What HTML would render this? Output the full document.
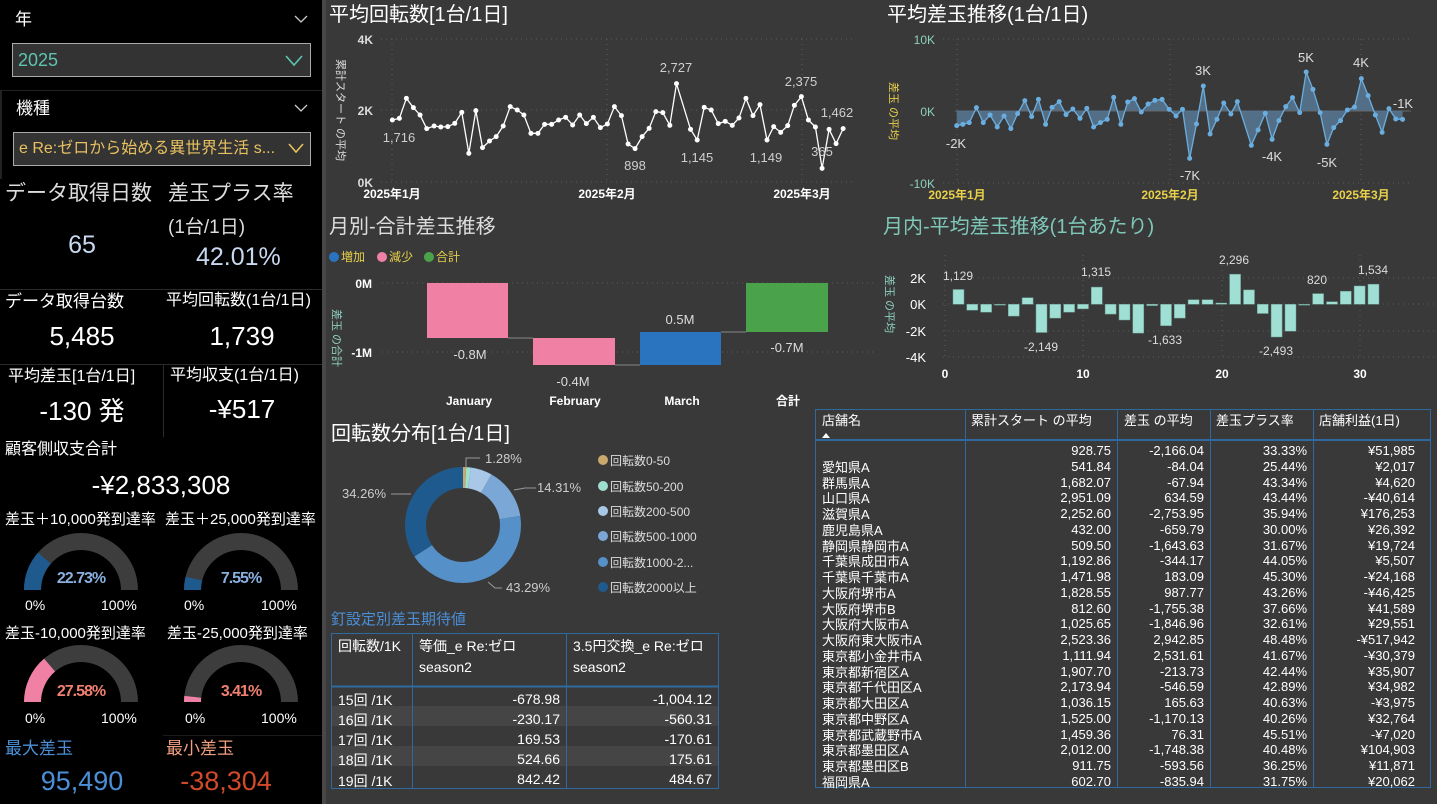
<!DOCTYPE html>
<html><head><meta charset="utf-8">
<style>
*{margin:0;padding:0;box-sizing:border-box}
body{width:1437px;height:804px;background:#393939;position:relative;overflow:hidden;font-family:"Liberation Sans","Noto Sans CJK JP",sans-serif;color:#fff}
.a{position:absolute;white-space:nowrap;line-height:1}
.c{transform:translateX(-50%)}
#left{position:absolute;left:0;top:0;width:322px;height:804px;background:#000}
#sep{position:absolute;left:322px;top:0;width:4px;height:804px;background:#484848}
.box{position:absolute;border:1px solid #aaa;background:#333}
</style></head><body>
<div id="left"></div><div id="sep"></div>
<!-- left panel -->
<div class="a" style="left:15px;top:11px;font-size:17px">年</div>
<div class="box" style="left:12px;top:43px;width:299px;height:34px"></div>
<div class="a" style="left:18px;top:51px;font-size:18px;color:#5ec4b0">2025</div>
<div style="position:absolute;left:0;top:90px;width:322px;height:1px;background:#222"></div>
<div style="position:absolute;left:0;top:91px;width:2px;height:88px;background:#222"></div>
<div class="a" style="left:16px;top:100px;font-size:17px">機種</div>
<div class="box" style="left:13px;top:132px;width:298px;height:34px"></div>
<div class="a" style="left:19px;top:141px;font-size:16px;color:#e8c060">e Re:ゼロから始める異世界生活 s...</div>
<svg style="position:absolute;left:0;top:0" width="322" height="180" fill="none">
<polyline points="295,16 301,22 307,16" stroke="#ccc" stroke-width="1.3"/>
<polyline points="295,105 301,111 307,105" stroke="#ccc" stroke-width="1.3"/>
<polyline points="286,56 294,65 302,56" stroke="#5ec4b0" stroke-width="1.6"/>
<polyline points="289,144 296,152 303,144" stroke="#e8c060" stroke-width="1.6"/>
</svg>
<div class="a" style="left:5px;top:183px;font-size:21px;color:#ddd">データ取得日数</div>
<div class="a" style="left:168px;top:183px;font-size:21px;color:#ddd">差玉プラス率</div>
<div class="a" style="left:168px;top:218px;font-size:19px;color:#ddd">(1台/1日)</div>
<div class="a c" style="left:82px;top:233px;font-size:25px;color:#c8d8f0">65</div>
<div class="a" style="left:196px;top:245px;font-size:25px;color:#c8d8f0">42.01%</div>
<div style="position:absolute;left:0;top:289px;width:322px;height:1px;background:#2a2a2a"></div>
<div class="a" style="left:5px;top:293px;font-size:17px">データ取得台数</div>
<div class="a" style="left:166px;top:293px;font-size:16px">平均回転数(1台/1日)</div>
<div class="a c" style="left:82px;top:323px;font-size:26px">5,485</div>
<div class="a c" style="left:242px;top:323px;font-size:26px">1,739</div>
<div style="position:absolute;left:0;top:364px;width:322px;height:1px;background:#2a2a2a"></div>
<div style="position:absolute;left:163px;top:365px;width:1px;height:72px;background:#2a2a2a"></div>
<div class="a" style="left:8px;top:369px;font-size:16px">平均差玉[1台/1日]</div>
<div class="a" style="left:170px;top:368px;font-size:16px">平均収支(1台/1日)</div>
<div class="a c" style="left:82px;top:398px;font-size:26px">-130 発</div>
<div class="a c" style="left:242px;top:396px;font-size:26px">-¥517</div>
<div class="a" style="left:5px;top:442px;font-size:16px">顧客側収支合計</div>
<div class="a c" style="left:161px;top:472px;font-size:26px">-¥2,833,308</div>
<div class="a" style="left:5px;top:512px;font-size:15px">差玉＋10,000発到達率</div>
<div class="a" style="left:165px;top:512px;font-size:15px">差玉＋25,000発到達率</div>
<div class="a" style="left:5px;top:626px;font-size:15px">差玉-10,000発到達率</div>
<div class="a" style="left:167px;top:626px;font-size:15px">差玉-25,000発到達率</div>
<svg style="position:absolute;left:0;top:0" width="322" height="804">
<g fill="#3d3d3d">
<path d="M24 590A57 57 0 0 1 138 590L121 590A40 40 0 0 0 41 590Z"/>
<path d="M184 590A57 57 0 0 1 298 590L281 590A40 40 0 0 0 201 590Z"/>
<path d="M24 702A57 57 0 0 1 138 702L121 702A40 40 0 0 0 41 702Z"/>
<path d="M184 702A57 57 0 0 1 298 702L281 702A40 40 0 0 0 201 702Z"/>
</g>
<path fill="#1f5a8f" d="M24 590A57 57 0 0 1 38 552.6L50.8 563.8A40 40 0 0 0 41 590Z"/>
<path fill="#1f5a8f" d="M184 590A57 57 0 0 1 185.6 576.6L202.1 580.6A40 40 0 0 0 201 590Z"/>
<path fill="#f080a4" d="M24 702A57 57 0 0 1 44.1 658.6L55.1 671.5A40 40 0 0 0 41 702Z"/>
<path fill="#f080a4" d="M184 702A57 57 0 0 1 184.3 695.9L201.2 697.7A40 40 0 0 0 201 702Z"/>
</svg>
<div class="a c" style="left:81px;top:571px;font-size:16px;color:#8ab0e0;font-weight:bold;letter-spacing:-1px">22.73%</div>
<div class="a c" style="left:241px;top:571px;font-size:16px;color:#8ab0e0;font-weight:bold;letter-spacing:-1px">7.55%</div>
<div class="a c" style="left:81px;top:684px;font-size:16px;color:#f08070;font-weight:bold;letter-spacing:-1px">27.58%</div>
<div class="a c" style="left:241px;top:684px;font-size:16px;color:#f08070;font-weight:bold;letter-spacing:-1px">3.41%</div>
<div class="a" style="left:25px;top:598px;font-size:14px">0%</div>
<div class="a" style="left:101px;top:598px;font-size:14px">100%</div>
<div class="a" style="left:184px;top:598px;font-size:14px">0%</div>
<div class="a" style="left:261px;top:598px;font-size:14px">100%</div>
<div class="a" style="left:25px;top:711px;font-size:14px">0%</div>
<div class="a" style="left:101px;top:711px;font-size:14px">100%</div>
<div class="a" style="left:185px;top:711px;font-size:14px">0%</div>
<div class="a" style="left:261px;top:711px;font-size:14px">100%</div>
<div style="position:absolute;left:163px;top:735px;width:159px;height:1px;background:#1a1a1a"></div>
<div class="a" style="left:5px;top:740px;font-size:17px;color:#4a8fd8">最大差玉</div>
<div class="a" style="left:166px;top:740px;font-size:17px;color:#f0a080">最小差玉</div>
<div class="a c" style="left:82px;top:768px;font-size:27px;color:#4a8fd8">95,490</div>
<div class="a c" style="left:226px;top:768px;font-size:27px;color:#d04a2a">-38,304</div>

<!-- titles -->
<div class="a" style="left:329px;top:5px;font-size:20px">平均回転数[1台/1日]</div>
<div class="a" style="left:887px;top:5px;font-size:20px">平均差玉推移(1台/1日)</div>
<div class="a" style="left:329px;top:217px;font-size:20px;color:#ddd">月別-合計差玉推移</div>
<div class="a" style="left:883px;top:217px;font-size:20px;color:#7ec8b8">月内-平均差玉推移(1台あたり)</div>
<div class="a" style="left:331px;top:424px;font-size:20px">回転数分布[1台/1日]</div>
<div class="a" style="left:331px;top:612px;font-size:15px;color:#4a8fd8">釘設定別差玉期待値</div>

<svg style="position:absolute;left:0;top:0" width="1437" height="804" font-family="Liberation Sans, Noto Sans CJK JP, sans-serif">
<!-- chart1 -->
<g stroke="#5a5a5a" stroke-dasharray="1 4" stroke-width="1">
<line x1="381" y1="39" x2="853" y2="39"/><line x1="381" y1="110" x2="853" y2="110"/><line x1="381" y1="182" x2="853" y2="182"/>
<line x1="392" y1="39" x2="392" y2="182"/><line x1="607" y1="39" x2="607" y2="182"/><line x1="802" y1="39" x2="802" y2="182"/>
</g>
<g font-size="12" fill="#ddd" text-anchor="end" font-weight="bold"><text x="373" y="44">4K</text><text x="373" y="115">2K</text><text x="373" y="187">0K</text></g>
<g font-size="12" fill="#fff" text-anchor="middle" font-weight="bold"><text x="392" y="198">2025年1月</text><text x="607" y="198">2025年2月</text><text x="802" y="198">2025年3月</text></g>
<text transform="translate(337,110) rotate(90)" font-size="11" fill="#ddd" text-anchor="middle">累計スタート の平均</text>
<g transform="translate(325,0) scale(0.3508,0.3333)" fill="none" stroke="#fff" stroke-width="1.3">
<polyline vector-effect="non-scaling-stroke" points="192,360 212,355 232,295 252,323 271,345 290,386 311,378 330,381 350,380 370,370 390,337 410,460 430,332 449,443 469,423 488,410 508,378 528,320 548,330 567,345 587,400 607,400 626,373 646,373 666,360 686,352 706,375 726,345 745,371 765,352 785,383 805,372 825,320 845,347 864,432 884,446 904,410 924,385 943,335 963,338 983,376 1002,251 1042,388 1061,420 1081,322 1101,330 1121,371 1141,364 1161,376 1180,354 1200,295 1220,347 1240,314 1260,420 1279,380 1299,397 1319,377 1338,316 1358,290 1378,360 1398,381 1417,505 1437,388 1457,431 1477,386"/>
<path vector-effect="non-scaling-stroke" stroke-width="5" stroke-linecap="round" d="M192 360h0M212 355h0M232 295h0M252 323h0M271 345h0M290 386h0M311 378h0M330 381h0M350 380h0M370 370h0M390 337h0M410 460h0M430 332h0M449 443h0M469 423h0M488 410h0M508 378h0M528 320h0M548 330h0M567 345h0M587 400h0M607 400h0M626 373h0M646 373h0M666 360h0M686 352h0M706 375h0M726 345h0M745 371h0M765 352h0M785 383h0M805 372h0M825 320h0M845 347h0M864 432h0M884 446h0M904 410h0M924 385h0M943 335h0M963 338h0M983 376h0M1002 251h0M1042 388h0M1061 420h0M1081 322h0M1101 330h0M1121 371h0M1141 364h0M1161 376h0M1180 354h0M1200 295h0M1220 347h0M1240 314h0M1260 420h0M1279 380h0M1299 397h0M1319 377h0M1338 316h0M1358 290h0M1378 360h0M1398 381h0M1417 505h0M1437 388h0M1457 431h0M1477 386h0"/>
</g>
<g font-size="13" fill="#cfcfcf" text-anchor="middle"><text x="399" y="142">1,716</text><text x="676" y="72">2,727</text><text x="635" y="170">898</text><text x="697" y="162">1,145</text><text x="766" y="162">1,149</text><text x="801" y="86">2,375</text><text x="822" y="156">365</text><text x="837" y="117">1,462</text></g>

<!-- chart2 -->
<g stroke="#5a5a5a" stroke-dasharray="1 4" stroke-width="1">
<line x1="943" y1="39" x2="1411" y2="39"/><line x1="943" y1="183" x2="1411" y2="183"/>
<line x1="957" y1="39" x2="957" y2="183"/><line x1="1170" y1="39" x2="1170" y2="183"/><line x1="1361" y1="39" x2="1361" y2="183"/>
</g>
<line x1="955" y1="111" x2="1411" y2="111" stroke="#666" stroke-width="1"/>
<g font-size="12" fill="#8fd0c0" text-anchor="end"><text x="935" y="44">10K</text><text x="935" y="116">0K</text><text x="935" y="188">-10K</text></g>
<g font-size="12" fill="#e8d04a" text-anchor="middle" font-weight="bold"><text x="957" y="199">2025年1月</text><text x="1170" y="199">2025年2月</text><text x="1361" y="199">2025年3月</text></g>
<text transform="translate(890,111) rotate(90)" font-size="11" fill="#e8d04a" text-anchor="middle">差玉 の平均</text>
<g transform="translate(875,0) scale(0.3584,0.3333)">
<polygon fill="#567590" opacity="0.9" points="228,332 228,377 245,373 263,368 283,323 302,368 321,345 341,381 360,348 379,386 398,341 418,302 437,350 456,298 476,373 494,322 514,305 533,344 552,327 572,355 591,325 610,381 629,368 648,358 666,292 686,373 705,306 724,296 743,336 762,312 781,301 801,298 821,328 840,348 858,328 878,475 897,372 916,258 935,402 954,358 973,309 993,342 1011,305 1050,436 1069,390 1089,340 1108,418 1127,362 1146,320 1165,293 1185,338 1203,216 1222,268 1242,338 1261,433 1280,383 1299,362 1318,330 1338,321 1357,236 1376,287 1396,345 1415,397 1434,326 1453,357 1472,358 1472,332"/>
<polyline fill="none" stroke="#6aaee0" stroke-width="1.3" vector-effect="non-scaling-stroke" points="228,377 245,373 263,368 283,323 302,368 321,345 341,381 360,348 379,386 398,341 418,302 437,350 456,298 476,373 494,322 514,305 533,344 552,327 572,355 591,325 610,381 629,368 648,358 666,292 686,373 705,306 724,296 743,336 762,312 781,301 801,298 821,328 840,348 858,328 878,475 897,372 916,258 935,402 954,358 973,309 993,342 1011,305 1050,436 1069,390 1089,340 1108,418 1127,362 1146,320 1165,293 1185,338 1203,216 1222,268 1242,338 1261,433 1280,383 1299,362 1318,330 1338,321 1357,236 1376,287 1396,345 1415,397 1434,326 1453,357 1472,358"/>
<path fill="none" stroke="#6aaee0" vector-effect="non-scaling-stroke" stroke-width="5" stroke-linecap="round" d="M228 377h0M245 373h0M263 368h0M283 323h0M302 368h0M321 345h0M341 381h0M360 348h0M379 386h0M398 341h0M418 302h0M437 350h0M456 298h0M476 373h0M494 322h0M514 305h0M533 344h0M552 327h0M572 355h0M591 325h0M610 381h0M629 368h0M648 358h0M666 292h0M686 373h0M705 306h0M724 296h0M743 336h0M762 312h0M781 301h0M801 298h0M821 328h0M840 348h0M858 328h0M878 475h0M897 372h0M916 258h0M935 402h0M954 358h0M973 309h0M993 342h0M1011 305h0M1050 436h0M1069 390h0M1089 340h0M1108 418h0M1127 362h0M1146 320h0M1165 293h0M1185 338h0M1203 216h0M1222 268h0M1242 338h0M1261 433h0M1280 383h0M1299 362h0M1318 330h0M1338 321h0M1357 236h0M1376 287h0M1396 345h0M1415 397h0M1434 326h0M1453 357h0M1472 358h0"/>
</g>
<g font-size="13" fill="#ddd" text-anchor="middle"><text x="956" y="148">-2K</text><text x="1203" y="75">3K</text><text x="1190" y="180">-7K</text><text x="1306" y="62">5K</text><text x="1272" y="161">-4K</text><text x="1327" y="167">-5K</text><text x="1361" y="67">4K</text><text x="1403" y="108">-1K</text></g>

<!-- waterfall -->
<circle cx="334" cy="257" r="5" fill="#2a74bf"/><circle cx="382" cy="257" r="5" fill="#f080a4"/><circle cx="429" cy="257" r="5" fill="#4aa24a"/>
<g font-size="12" fill="#e8d04a"><text x="341" y="261">増加</text><text x="389" y="261">減少</text><text x="436" y="261">合計</text></g>
<g stroke="#5a5a5a" stroke-dasharray="1 4"><line x1="382" y1="283" x2="875" y2="283"/><line x1="382" y1="352" x2="875" y2="352"/></g>
<g font-size="12" fill="#fff" text-anchor="end" font-weight="bold"><text x="372" y="288">0M</text><text x="372" y="357">-1M</text></g>
<text transform="translate(333,338) rotate(90)" font-size="11" fill="#8fd0c0" text-anchor="middle">差玉 の合計</text>
<rect x="427" y="283" width="81" height="55" fill="#f080a4"/>
<rect x="533" y="338" width="82" height="27" fill="#f080a4"/>
<rect x="640" y="332" width="81" height="33" fill="#2a74bf"/>
<rect x="746" y="283" width="82" height="49" fill="#4aa24a"/>
<g stroke="#888" stroke-width="1"><line x1="508" y1="338" x2="533" y2="338"/><line x1="615" y1="365" x2="640" y2="365"/><line x1="721" y1="332" x2="746" y2="332"/></g>
<g font-size="13" fill="#ddd" text-anchor="middle"><text x="470" y="359">-0.8M</text><text x="573" y="386">-0.4M</text><text x="680" y="324">0.5M</text><text x="787" y="352">-0.7M</text></g>
<g font-size="12" fill="#fff" text-anchor="middle" font-weight="bold"><text x="469" y="405">January</text><text x="575" y="405">February</text><text x="682" y="405">March</text><text x="788" y="405">合計</text></g>

<!-- bar chart -->
<g stroke="#5a5a5a" stroke-dasharray="1 4"><line x1="943" y1="278" x2="1437" y2="278"/><line x1="943" y1="304" x2="1437" y2="304"/><line x1="943" y1="331" x2="1437" y2="331"/><line x1="943" y1="357" x2="1437" y2="357"/>
<line x1="945" y1="255" x2="945" y2="357"/><line x1="1083" y1="255" x2="1083" y2="357"/><line x1="1222" y1="255" x2="1222" y2="357"/><line x1="1360" y1="255" x2="1360" y2="357"/></g>
<g font-size="13" fill="#fff" text-anchor="end"><text x="926" y="283">2K</text><text x="926" y="309">0K</text><text x="926" y="336">-2K</text><text x="926" y="362">-4K</text></g>
<g font-size="12" fill="#fff" text-anchor="middle" font-weight="bold"><text x="945" y="378">0</text><text x="1083" y="378">10</text><text x="1222" y="378">20</text><text x="1360" y="378">30</text></g>
<text transform="translate(886,304) rotate(90)" font-size="11" fill="#8fd0c0" text-anchor="middle">差玉 の平均</text>
<g fill="#a0e0d4" stroke="#6a9a90" stroke-width="0.5">
<rect x="953" y="289.5" width="11" height="14.8"/><rect x="966.8" y="304.3" width="11" height="5.9"/><rect x="980.6" y="304.3" width="11" height="7.9"/><rect x="994.5" y="304.3" width="11" height="0.8"/><rect x="1008.3" y="304.3" width="11" height="11.8"/><rect x="1022.1" y="297.7" width="11" height="6.6"/><rect x="1036" y="304.3" width="11" height="28.2"/><rect x="1049.8" y="304.3" width="11" height="13.8"/><rect x="1063.6" y="304.3" width="11" height="7.9"/><rect x="1077.5" y="304.3" width="11" height="4.6"/><rect x="1091.3" y="287.1" width="11" height="17.2"/><rect x="1105.1" y="304.3" width="11" height="9.8"/><rect x="1119" y="304.3" width="11" height="15.7"/><rect x="1132.8" y="304.3" width="11" height="28.8"/><rect x="1146.6" y="304.3" width="11" height="1.3"/><rect x="1160.5" y="304.3" width="11" height="21.4"/><rect x="1174.3" y="304.3" width="11" height="13.8"/><rect x="1188.1" y="299.7" width="11" height="4.6"/><rect x="1202" y="299.7" width="11" height="4.6"/><rect x="1215.8" y="303" width="11" height="1.3"/><rect x="1229.6" y="274.2" width="11" height="30.1"/><rect x="1243.5" y="289.9" width="11" height="14.4"/><rect x="1257.3" y="304.3" width="11" height="9.2"/><rect x="1271.1" y="304.3" width="11" height="32.7"/><rect x="1285" y="304.3" width="11" height="26.9"/><rect x="1298.8" y="304.3" width="11" height="0.8"/><rect x="1312.6" y="293.6" width="11" height="10.7"/><rect x="1326.5" y="301.7" width="11" height="2.6"/><rect x="1340.3" y="291.2" width="11" height="13.1"/><rect x="1354.1" y="286" width="11" height="18.3"/><rect x="1368" y="284.2" width="11" height="20.1"/>
</g>
<g font-size="12" fill="#ddd" text-anchor="middle"><text x="958" y="280">1,129</text><text x="1096" y="276">1,315</text><text x="1234" y="264">2,296</text><text x="1041" y="351">-2,149</text><text x="1165" y="344">-1,633</text><text x="1276" y="355">-2,493</text><text x="1317" y="284">820</text><text x="1373" y="274">1,534</text></g>

<!-- donut -->
<g transform="translate(463,525) rotate(-90)" fill="none" stroke-width="21">
<circle r="47.5" stroke="#c8a96e" stroke-dasharray="2.7 300" stroke-dashoffset="0"/>
<circle r="47.5" stroke="#9ee0cf" stroke-dasharray="3.8 300" stroke-dashoffset="-2.7"/>
<circle r="47.5" stroke="#a9c8e8" stroke-dasharray="17.8 300" stroke-dashoffset="-6.5"/>
<circle r="47.5" stroke="#7ba7d6" stroke-dasharray="42.7 300" stroke-dashoffset="-24.3"/>
<circle r="47.5" stroke="#5590c8" stroke-dasharray="129.2 300" stroke-dashoffset="-67"/>
<circle r="47.5" stroke="#1f5a8f" stroke-dasharray="102.3 300" stroke-dashoffset="-196.2"/>
</g>
<g stroke="#999" fill="none"><polyline points="466,467 466,458 480,458"/><polyline points="514,490 525,488 536,488"/><polyline points="411,494 391,494"/><polyline points="488,582 495,588 502,588"/></g>
<g font-size="13" fill="#ccc"><text x="485" y="463">1.28%</text><text x="537" y="492">14.31%</text><text x="342" y="498">34.26%</text><text x="506" y="592">43.29%</text></g>
<g><circle cx="603" cy="460" r="5" fill="#c8a96e"/><circle cx="603" cy="486" r="5" fill="#9ee0cf"/><circle cx="603" cy="511" r="5" fill="#a9c8e8"/><circle cx="603" cy="536" r="5" fill="#7ba7d6"/><circle cx="603" cy="562" r="5" fill="#5590c8"/><circle cx="603" cy="587" r="5" fill="#1f5a8f"/></g>
<g font-size="12" fill="#ddd"><text x="610" y="465">回転数0-50</text><text x="610" y="491">回転数50-200</text><text x="610" y="516">回転数200-500</text><text x="610" y="541">回転数500-1000</text><text x="610" y="567">回転数1000-2...</text><text x="610" y="592">回転数2000以上</text></g>

<!-- small table -->
<rect x="331.5" y="633.5" width="387" height="155" fill="none" stroke="#2e6aa0"/>
<rect x="332" y="706" width="386" height="20" fill="#454545"/><rect x="332" y="746" width="386" height="20" fill="#454545"/>
<g stroke="#2e6aa0"><line x1="412.5" y1="634" x2="412.5" y2="788"/><line x1="566.5" y1="634" x2="566.5" y2="788"/><line x1="332" y1="686.5" x2="718" y2="686.5" stroke-width="2"/></g>
<g font-size="14" fill="#fff"><text x="338" y="651">回転数/1K</text><text x="419" y="651">等価_e Re:ゼロ</text><text x="419" y="672">season2</text><text x="573" y="651">3.5円交換_e Re:ゼロ</text><text x="573" y="672">season2</text>
<text x="338" y="705">15回 /1K</text><text x="338" y="725">16回 /1K</text><text x="338" y="745">17回 /1K</text><text x="338" y="765">18回 /1K</text><text x="338" y="786">19回 /1K</text></g>
<g font-size="14" fill="#fff" text-anchor="end"><text x="560" y="704">-678.98</text><text x="560" y="724">-230.17</text><text x="560" y="744">169.53</text><text x="560" y="764">524.66</text><text x="560" y="784">842.42</text>
<text x="712" y="704">-1,004.12</text><text x="712" y="724">-560.31</text><text x="712" y="744">-170.61</text><text x="712" y="764">175.61</text><text x="712" y="784">484.67</text></g>

<!-- big table -->
<rect x="815.5" y="409.5" width="615" height="378" fill="none" stroke="#2e6aa0"/>
<g stroke="#2e6aa0"><line x1="965.5" y1="410" x2="965.5" y2="787"/><line x1="1117.5" y1="410" x2="1117.5" y2="787"/><line x1="1210.5" y1="410" x2="1210.5" y2="787"/><line x1="1313.5" y1="410" x2="1313.5" y2="787"/><line x1="816" y1="440" x2="1430" y2="440" stroke-width="2"/></g>
<g font-size="13" fill="#fff"><text x="822" y="425">店舗名</text><text x="971" y="425">累計スタート の平均</text><text x="1124" y="425">差玉 の平均</text><text x="1216" y="425">差玉プラス率</text><text x="1319" y="425">店舗利益(1日)</text></g>
<path d="M822 438 l4 -5 l4 5z" fill="#fff"/>
</svg>
<div style="position:absolute;left:0;top:443px">
<div style="position:absolute;font-size:13px;line-height:15.75px;white-space:nowrap">
<div style="position:absolute;left:822px;top:1px;width:140px">
&nbsp;<br>愛知県A<br>群馬県A<br>山口県A<br>滋賀県A<br>鹿児島県A<br>静岡県静岡市A<br>千葉県成田市A<br>千葉県千葉市A<br>大阪府堺市A<br>大阪府堺市B<br>大阪府大阪市A<br>大阪府東大阪市A<br>東京都小金井市A<br>東京都新宿区A<br>東京都千代田区A<br>東京都大田区A<br>東京都中野区A<br>東京都武蔵野市A<br>東京都墨田区A<br>東京都墨田区B<br>福岡県A</div>
<div style="position:absolute;left:965px;width:146px;text-align:right">928.75<br>541.84<br>1,682.07<br>2,951.09<br>2,252.60<br>432.00<br>509.50<br>1,192.86<br>1,471.98<br>1,828.55<br>812.60<br>1,025.65<br>2,523.36<br>1,111.94<br>1,907.70<br>2,173.94<br>1,036.15<br>1,525.00<br>1,459.36<br>2,012.00<br>911.75<br>602.70</div>
<div style="position:absolute;left:1117px;width:87px;text-align:right">-2,166.04<br>-84.04<br>-67.94<br>634.59<br>-2,753.95<br>-659.79<br>-1,643.63<br>-344.17<br>183.09<br>987.77<br>-1,755.38<br>-1,846.96<br>2,942.85<br>2,531.61<br>-213.73<br>-546.59<br>165.63<br>-1,170.13<br>76.31<br>-1,748.38<br>-593.56<br>-835.94</div>
<div style="position:absolute;left:1210px;width:97px;text-align:right">33.33%<br>25.44%<br>43.34%<br>43.44%<br>35.94%<br>30.00%<br>31.67%<br>44.05%<br>45.30%<br>43.26%<br>37.66%<br>32.61%<br>48.48%<br>41.67%<br>42.44%<br>42.89%<br>40.63%<br>40.26%<br>45.51%<br>40.48%<br>36.25%<br>31.75%</div>
<div style="position:absolute;left:1313px;width:102px;text-align:right">¥51,985<br>¥2,017<br>¥4,620<br>-¥40,614<br>¥176,253<br>¥26,392<br>¥19,724<br>¥5,507<br>-¥24,168<br>-¥46,425<br>¥41,589<br>¥29,551<br>-¥517,942<br>-¥30,379<br>¥35,907<br>¥34,982<br>-¥3,975<br>¥32,764<br>-¥7,020<br>¥104,903<br>¥11,871<br>¥20,062</div>
</div></div>
</body></html>
